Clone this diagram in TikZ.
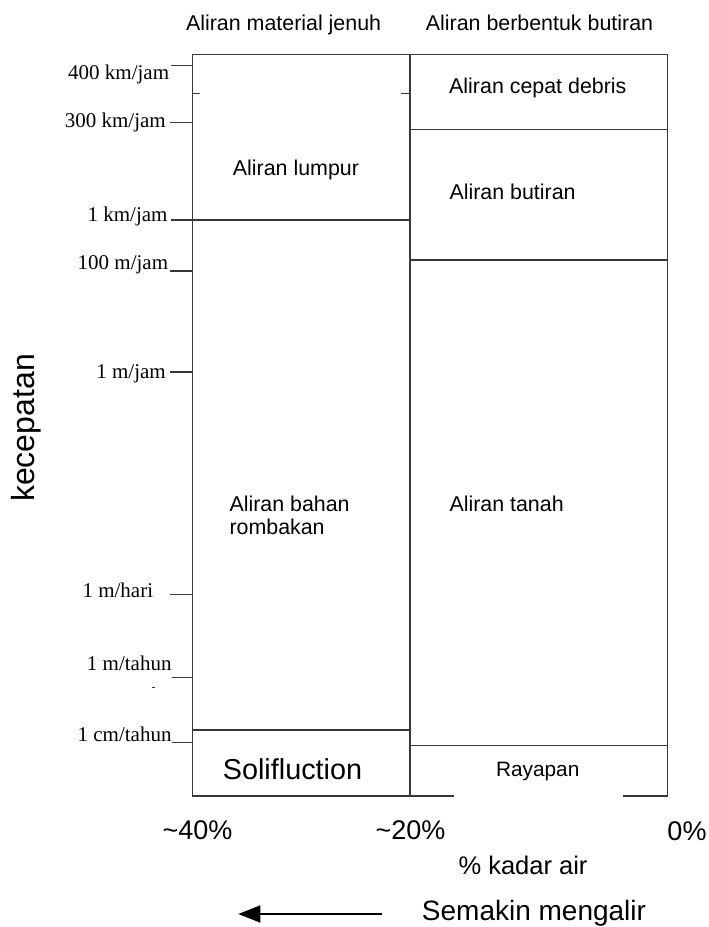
\documentclass[tikz,border=0pt]{standalone}
\usepackage{fontspec}
\setmainfont{Liberation Sans}
\newfontfamily\tms{Liberation Serif}
\usetikzlibrary{arrows.meta}
\begin{document}
\begin{tikzpicture}[x=1pt,y=-1pt,
  frame/.style={draw=black!78,line width=1.1pt},
  lbl/.style={inner sep=0pt,font=\fontsize{21.4}{21.4}\selectfont},
  axl/.style={inner sep=0pt,anchor=base east,font=\tms\fontsize{21}{21}\selectfont},
  big/.style={inner sep=0pt,anchor=base,font=\fontsize{27}{27}\selectfont},
  arr/.style={draw=black,line width=1.8pt,-{Triangle[length=22pt,width=17pt]}}]
\useasboundingbox (0,0) rectangle (709,927);
% corners
\coordinate (LT) at (192.3,54.7);
\coordinate (MT) at (410,54.7);
\coordinate (RT) at (667.3,54.7);
\coordinate (LB) at (192.3,796);
\coordinate (MB) at (410,796);
\coordinate (RB) at (667.3,796);
\coordinate (G1) at (454,796);
\coordinate (G2) at (623,796);
% boxes
\draw[frame] (MB) -- (LB) -- (LT) -- (RT) -- (RB) -- (G2);
\draw[frame] (G1) -- (MB) -- (MT);
% left box dividers
\coordinate (d1a) at (170.7,220); \coordinate (d1b) at (410,220);
\draw[frame] (d1a) -- (d1b);
\coordinate (d2a) at (192.3,730); \coordinate (d2b) at (410,730);
\draw[frame] (d2a) -- (d2b);
% right box dividers
\coordinate (r1a) at (410,129.3); \coordinate (r1b) at (667.3,129.3);
\coordinate (r2a) at (410,260); \coordinate (r2b) at (667.3,260);
\coordinate (r3a) at (410,745.3); \coordinate (r3b) at (667.3,745.3);
\draw[frame] (r1a) -- (r1b) (r2a) -- (r2b) (r3a) -- (r3b);
% stubs
\coordinate (s1a) at (192.3,93.7); \coordinate (s1b) at (200,93.7);
\coordinate (s2a) at (400.7,93.7); \coordinate (s2b) at (410,93.7);
\draw[frame] (s1a) -- (s1b) (s2a) -- (s2b);
% ticks
\coordinate (k1a) at (171,65.7);  \coordinate (k1b) at (192.3,65.7);
\coordinate (k2a) at (170,122.7); \coordinate (k2b) at (192.3,122.7);
\coordinate (k3a) at (170,271);   \coordinate (k3b) at (192.3,271);
\coordinate (k4a) at (170,372);   \coordinate (k4b) at (192.3,372);
\coordinate (k5a) at (170,594.7); \coordinate (k5b) at (192.3,594.7);
\coordinate (k6a) at (172,677.7); \coordinate (k6b) at (192.3,677.7);
\coordinate (k7a) at (172,742.7); \coordinate (k7b) at (192.3,742.7);
\coordinate (dsa) at (151.5,687.7); \coordinate (dsb) at (155,687.7);
\draw[frame] (k1a) -- (k1b) (k2a) -- (k2b) (k3a) -- (k3b) (k4a) -- (k4b)
  (k5a) -- (k5b) (k6a) -- (k6b) (k7a) -- (k7b);
\draw[draw=black!78,line width=0.8pt] (dsa) -- (dsb);
% axis labels
\node[axl] (a1) at (169.3,79.3) {400 km/jam};
\node[axl] (a2) at (166,127.3) {300 km/jam};
\node[axl] (a3) at (167.7,221.7) {1 km/jam};
\node[axl] (a4) at (168.3,269.3) {100 m/jam};
\node[axl] (a5) at (166,378) {1 m/jam};
\node[axl] (a6) at (153.3,597.3) {1 m/hari};
\node[axl] (a7) at (171.7,670) {1 m/tahun};
\node[axl] (a8) at (171.7,741) {1 cm/tahun};
% header
\node[lbl,anchor=base] (h1) at (283.6,30) {Aliran material jenuh};
\node[lbl,anchor=base] (h2) at (539.5,30) {Aliran berbentuk butiran};
% box texts
\node[lbl,anchor=base west] (t1) at (232.7,175.3) {Aliran lumpur};
\node[lbl,anchor=base west] (t2) at (229.3,511.7) {Aliran bahan};
\node[lbl,anchor=base west] (t3) at (229.3,534) {rombakan};
\node[lbl,anchor=base west] (t4) at (449,93.3) {Aliran cepat debris};
\node[lbl,anchor=base west] (t5) at (449.3,199) {Aliran butiran};
\node[lbl,anchor=base west] (t6) at (449.3,511.7) {Aliran tanah};
\node[inner sep=0pt,anchor=base,font=\fontsize{28.8}{28.8}\selectfont] (t7) at (292.5,779.3) {Solifluction};
\node[lbl,anchor=base,font=\fontsize{20.8}{20.8}\selectfont] (t8) at (537.7,776) {Rayapan};
% bottom
\node[big] (p40) at (197.5,839.5) {\char`\~40\%};
\node[big] (p20) at (410.5,839.5) {\char`\~20\%};
\node[big] (p0) at (687,840) {0\%};
\node[big,font=\fontsize{25.5}{25.5}\selectfont] (ka) at (523,874) {\% kadar air};
\node[big,font=\fontsize{28}{28}\selectfont] (sm) at (534,920.5) {Semakin mengalir};
\coordinate (arS) at (382.3,914);
\coordinate (arE) at (238.3,914);
\draw[arr] (arS) -- (arE);
% y label
\node[inner sep=0pt,anchor=base,rotate=90,font=\fontsize{32}{32}\selectfont] (kc) at (34.5,428) {kecepatan};
\end{tikzpicture}
\end{document}
